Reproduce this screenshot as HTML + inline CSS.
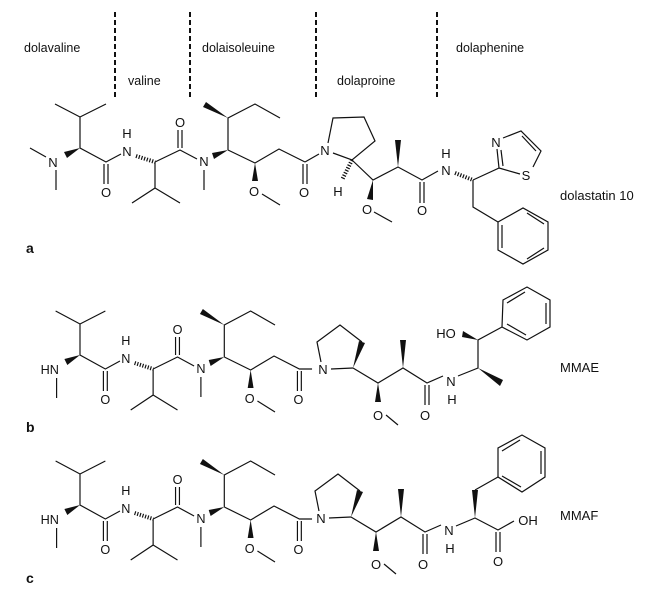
<!DOCTYPE html>
<html><head><meta charset="utf-8"><style>
html,body{margin:0;padding:0;background:#fff;}
svg{display:block;}
text{font-family:"Liberation Sans",Arial,sans-serif;font-size:13px;fill:#111;}
.l{font-size:12.5px;}
.at{text-anchor:middle;}
</style></head><body>
<svg width="666" height="596" viewBox="0 0 666 596" xmlns="http://www.w3.org/2000/svg">
<g stroke="#111" stroke-width="2" stroke-dasharray="5,3">
<line x1="115" y1="12" x2="115" y2="98"/><line x1="190" y1="12" x2="190" y2="98"/>
<line x1="316" y1="12" x2="316" y2="98"/><line x1="437" y1="12" x2="437" y2="98"/>
</g>
<text class="l" x="24" y="52">dolavaline</text>
<text class="l" x="128" y="85">valine</text>
<text class="l" x="202" y="52">dolaisoleuine</text>
<text class="l" x="337" y="85">dolaproine</text>
<text class="l" x="456" y="52">dolaphenine</text>

<!-- ===== a left ===== -->
<g stroke="#111" stroke-width="1.2" fill="none">
<path d="M55,104 L80,117 L106,104 M80,117 L80,148 L106,162 L121,154 M104,164 L104,184 M108,164 L108,184"/>
<path d="M30,148 L46,157 M56,170 L56,190"/>
<path d="M155,162 L155,188 L132,203 M155,188 L180,203 M155,162 L180,150 L197,159 M178,148 L178,130 M182,148 L182,130 M204,170 L204,190"/>
<path d="M228,150 L228,118 L255,104 L280,118 M228,150 L255,163 L279,149 L305,162 M262,194 L280,205 M303,164 L303,184 M307,164 L307,184"/>
<path d="M136,156 L155,162" stroke-dasharray="1.2,1.6" stroke-width="4"/>
</g>
<g fill="#111">
<polygon points="80,148 64,152 67,158"/>
<polygon points="228,150 212,153 214,159"/>
<polygon points="228,118 206,102 203,107"/>
<polygon points="255,163 252,181 258,181"/>
</g>
<text class="at" x="106" y="197">O</text>
<text class="at" x="53" y="167">N</text>
<text class="at" x="127" y="156">N</text><text class="at" x="127" y="138">H</text>
<text class="at" x="180" y="127">O</text>
<text class="at" x="204" y="166">N</text>
<text class="at" x="254" y="196">O</text>
<text class="at" x="304" y="197">O</text>

<!-- ===== a right ===== -->
<g stroke="#111" stroke-width="1.2" fill="none">
<path d="M305,162 L319,154 M328,143 L333,118 L364,117 L375,141 L352,160 L333,153"/>
<path d="M352,160 L373,180 L398,167 L422,180 L438,171 M374,212 L392,222 M420,182 L420,203 M424,182 L424,203"/>
<path d="M473,180 L499,168 L497,149 M503,166 L501,150 M503,138 L521,131 L541,151 L533,167 M522,136 L536,151 M520,174 L499,168"/>
<path d="M473,180 L473,207 L498,222 M498,222 L523,208 L548,222 L548,250 L523,264 L498,250 Z M527,213 L544,224 M544,248 L527,259 M502,248 L502,225"/>
<path d="M352,160 L342,180" stroke-dasharray="1.2,1.6" stroke-width="4"/>
<path d="M455,173 L473,180" stroke-dasharray="1.2,1.6" stroke-width="4"/>
</g>
<g fill="#111">
<polygon points="373,180 367,199 373,200"/>
<polygon points="398,167 395,140 401,140"/>
</g>
<text class="at" x="325" y="155">N</text>
<text class="at" x="338" y="196">H</text>
<text class="at" x="367" y="214">O</text>
<text class="at" x="422" y="215">O</text>
<text class="at" x="446" y="175">N</text><text class="at" x="446" y="158">H</text>
<text class="at" x="496" y="147">N</text>
<text class="at" x="526" y="180">S</text>
<text x="560" y="200">dolastatin 10</text>
<text x="26" y="253" style="font-weight:bold;font-size:14px">a</text>

<!-- ===== b, c left (shared) ===== -->
<g transform="translate(2,207) scale(0.975,1)">
<g stroke="#111" stroke-width="1.2" fill="none">
<path d="M55,104 L80,117 L106,104 M80,117 L80,148 L106,162 L121,154 M104,164 L104,184 M108,164 L108,184"/>
<path d="M56,171 L56,191"/>
<path d="M155,162 L155,188 L132,203 M155,188 L180,203 M155,162 L180,150 L197,159 M178,148 L178,130 M182,148 L182,130 M204,170 L204,190"/>
<path d="M228,150 L228,118 L255,104 L280,118 M228,150 L255,163 L279,149 L305,162 L318,162 M262,194 L280,205 M303,164 L303,184 M307,164 L307,184"/>
<path d="M136,156 L155,162" stroke-dasharray="1.2,1.6" stroke-width="4"/>
</g>
<g fill="#111">
<polygon points="80,148 64,152 67,158"/>
<polygon points="228,150 212,153 214,159"/>
<polygon points="228,118 206,102 203,107"/>
<polygon points="255,163 252,181 258,181"/>
</g>
<text class="at" x="106" y="197">O</text>
<text class="at" x="49" y="167">HN</text>
<text class="at" x="127" y="156">N</text><text class="at" x="127" y="138">H</text>
<text class="at" x="180" y="127">O</text>
<text class="at" x="204" y="166">N</text>
<text class="at" x="254" y="196">O</text>
<text class="at" x="304" y="197">O</text>
</g>
<g transform="translate(2,357) scale(0.975,1)">
<g stroke="#111" stroke-width="1.2" fill="none">
<path d="M55,104 L80,117 L106,104 M80,117 L80,148 L106,162 L121,154 M104,164 L104,184 M108,164 L108,184"/>
<path d="M56,171 L56,191"/>
<path d="M155,162 L155,188 L132,203 M155,188 L180,203 M155,162 L180,150 L197,159 M178,148 L178,130 M182,148 L182,130 M204,170 L204,190"/>
<path d="M228,150 L228,118 L255,104 L280,118 M228,150 L255,163 L279,149 L305,162 L318,162 M262,194 L280,205 M303,164 L303,184 M307,164 L307,184"/>
<path d="M136,156 L155,162" stroke-dasharray="1.2,1.6" stroke-width="4"/>
</g>
<g fill="#111">
<polygon points="80,148 64,152 67,158"/>
<polygon points="228,150 212,153 214,159"/>
<polygon points="228,118 206,102 203,107"/>
<polygon points="255,163 252,181 258,181"/>
</g>
<text class="at" x="106" y="197">O</text>
<text class="at" x="49" y="167">HN</text>
<text class="at" x="127" y="156">N</text><text class="at" x="127" y="138">H</text>
<text class="at" x="180" y="127">O</text>
<text class="at" x="204" y="166">N</text>
<text class="at" x="254" y="196">O</text>
<text class="at" x="304" y="197">O</text>
</g>

<!-- ===== b right ===== -->
<g stroke="#111" stroke-width="1.2" fill="none">
<path d="M321,362 L317,342 L340,325 L362,342 M353,368 L331,369"/>
<path d="M353,368 L378,383 L403,368 L427,383 L443,376 M386,415 L398,425 M425,385 L425,405 M429,385 L429,405"/>
<path d="M458,376 L478,368 L478,340 L502,327 M502,327 L503,300 L527,287 L550,300 L550,327 L527,340 Z M507,303 L525,292 M546,303 L546,324 M526,335 L507,324"/>
</g>
<g fill="#111">
<polygon points="353,368 359,341 365,343"/>
<polygon points="378,383 375,402 381,402"/>
<polygon points="403,368 400,340 406,340"/>
<polygon points="478,368 500,386 503,380"/>
<polygon points="478,340 463,331 462,337"/>
</g>
<text class="at" x="323" y="374">N</text>
<text class="at" x="378" y="420">O</text>
<text class="at" x="425" y="420">O</text>
<text class="at" x="451" y="386">N</text><text class="at" x="452" y="404">H</text>
<text class="at" x="446" y="338">HO</text>
<text x="560" y="372">MMAE</text>
<text x="26" y="432" style="font-weight:bold;font-size:14px">b</text>

<!-- ===== c right ===== -->
<g transform="translate(-2,149)">
<g stroke="#111" stroke-width="1.2" fill="none">
<path d="M321,362 L317,342 L340,325 L362,342 M353,368 L331,369"/>
<path d="M353,368 L378,383 L403,368 L427,383 L443,376 M386,415 L398,425 M425,385 L425,405 M429,385 L429,405"/>
</g>
<g fill="#111">
<polygon points="353,368 359,341 365,343"/>
<polygon points="378,383 375,402 381,402"/>
<polygon points="403,368 400,340 406,340"/>
</g>
<text class="at" x="323" y="374">N</text>
<text class="at" x="378" y="420">O</text>
<text class="at" x="425" y="420">O</text>
<text class="at" x="451" y="386">N</text><text class="at" x="452" y="404">H</text>
</g>
<g stroke="#111" stroke-width="1.2" fill="none">
<path d="M456,526 L475,518 L498,530 L514,521 M496,532 L496,552 M500,532 L500,552 M475,490 L498,477"/>
<path d="M498,477 L498,448 L522,435 L545,448 L545,477 L522,492 Z M502,451 L520,440 M541,451 L541,474 M521,487 L502,476"/>
</g>
<polygon points="475,518 472,490 478,490" fill="#111"/>
<text class="at" x="498" y="566">O</text>
<text class="at" x="528" y="525">OH</text>
<text x="560" y="520">MMAF</text>
<text x="26" y="583" style="font-weight:bold;font-size:14px">c</text>
</svg>
</body></html>
